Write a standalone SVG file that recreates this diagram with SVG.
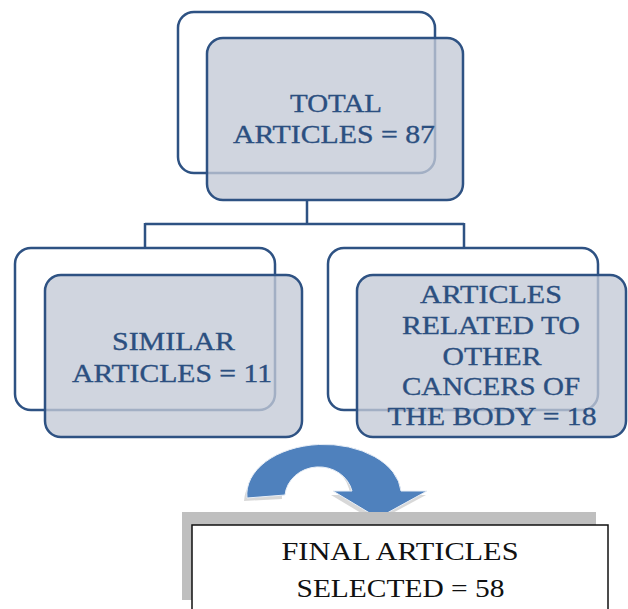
<svg xmlns="http://www.w3.org/2000/svg" width="628" height="609" viewBox="0 0 628 609">
<style>
.back{fill:#fff;stroke:#2e5283;stroke-width:2.5}
.front{fill:#c3c9d6;fill-opacity:0.78;stroke:#2e5283;stroke-width:2.5}
.lbl{fill:#2b4f80;stroke:#2b4f80;stroke-width:0.35}
.fin{fill:#111}
.conn{fill:none;stroke:#2e5283;stroke-width:2.5}
</style>
<rect width="628" height="609" fill="#fff"/>
<g id="connectors">
<path class="conn" d="M307,200 V224 M145,224 H464 M145,223 V249 M464,223 V249"/>
</g>
<g font-family="Liberation Serif, DejaVu Serif, serif" font-size="26" text-anchor="middle">
<g id="total">
<rect class="back" x="178" y="12" width="257" height="161" rx="16"/>
<rect class="front" x="207" y="38" width="256" height="162" rx="16"/>
<text class="lbl" x="336" y="112" textLength="92" lengthAdjust="spacingAndGlyphs">TOTAL</text>
<text class="lbl" x="334" y="143" textLength="202" lengthAdjust="spacingAndGlyphs">ARTICLES = 87</text>
</g>
<g id="similar">
<rect class="back" x="15" y="248" width="260" height="162" rx="16"/>
<rect class="front" x="45" y="275" width="257" height="162" rx="16"/>
<text class="lbl" x="173.5" y="350" textLength="123" lengthAdjust="spacingAndGlyphs">SIMILAR</text>
<text class="lbl" x="172" y="382" textLength="200" lengthAdjust="spacingAndGlyphs">ARTICLES = 11</text>
</g>
<g id="other">
<rect class="back" x="328" y="248" width="270" height="162" rx="16"/>
<rect class="front" x="357" y="275" width="269" height="162" rx="16"/>
<text class="lbl" x="491" y="303" textLength="142" lengthAdjust="spacingAndGlyphs">ARTICLES</text>
<text class="lbl" x="491" y="334" textLength="178" lengthAdjust="spacingAndGlyphs">RELATED TO</text>
<text class="lbl" x="492" y="365" textLength="99" lengthAdjust="spacingAndGlyphs">OTHER</text>
<text class="lbl" x="491" y="395" textLength="178" lengthAdjust="spacingAndGlyphs">CANCERS OF</text>
<text class="lbl" x="492" y="425" textLength="209" lengthAdjust="spacingAndGlyphs">THE BODY = 18</text>
</g>
<g id="arrow">
<path d="M244,501 A78,52 0 0 1 399,495 L426,495 L376,522 L331,495 L350,495 A33,32 0 0 0 282,499 Z" fill="#c8c8c8" opacity="0.7"/>
<path d="M247,498 A77,50 0 0 1 401,491 L427,491 L378,518 L333,491 L352,491 A34,31 0 0 0 285,495 Z" fill="#4f81bd" stroke="#e8eef6" stroke-width="1"/>
</g>
<g id="final">
<rect x="182" y="512" width="414" height="88" fill="#bfbfbf"/>
<rect x="192" y="525" width="416" height="90" fill="#fff" stroke="#111" stroke-width="1.5"/>
<text class="fin" x="400" y="560" textLength="237" lengthAdjust="spacingAndGlyphs">FINAL ARTICLES</text>
<text class="fin" x="400.5" y="597" textLength="208" lengthAdjust="spacingAndGlyphs">SELECTED = 58</text>
</g>
</g>
</svg>
